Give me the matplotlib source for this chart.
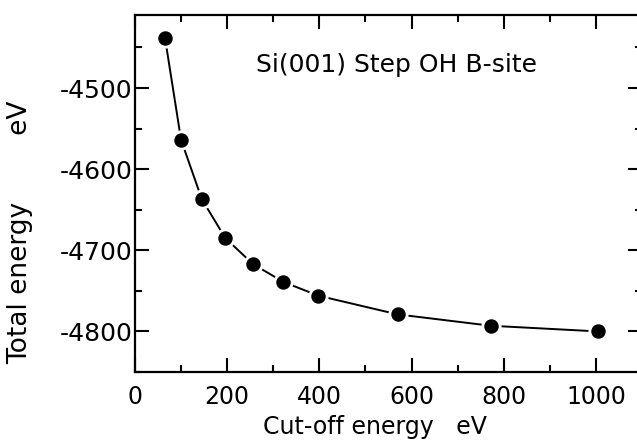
import numpy as np
import matplotlib
matplotlib.use("Agg")
import matplotlib.pyplot as plt
from matplotlib.ticker import MultipleLocator

# values
cutoff = [65, 100, 145, 196, 256, 322, 398, 570, 772, 1005]
total_energy = [-4438, -4564, -4637, -4685, -4717, -4739, -4756, -4779, -4793, -4800]
xticks = [0, 200, 400, 600, 800, 1000]
yticks = [-4500, -4600, -4700, -4800]
label_text = "Si(001) Step OH B-site"

plt.rcParams["font.family"] = ["DejaVu Sans"]
plt.rcParams["axes.unicode_minus"] = False

fig = plt.figure(figsize=(6.37, 4.42), dpi=100)
ax = fig.add_axes([135 / 637, 70 / 442, 507 / 637, 357 / 442])

# thin line, white halo to leave gaps near dots, then the dots
ax.plot(cutoff, total_energy, color="black", linewidth=1.4, zorder=2)
ax.plot(cutoff, total_energy, linestyle="none", marker="o", markersize=13.5,
        markerfacecolor="white", markeredgecolor="white", zorder=3)
ax.plot(cutoff, total_energy, linestyle="none", marker="o", markersize=9.4,
        markerfacecolor="black", markeredgecolor="black", zorder=4)

ax.set_xlim(0, 1100)
ax.set_ylim(-4850, -4410)
ax.set_xticks(xticks)
ax.set_yticks(yticks)
ax.xaxis.set_minor_locator(MultipleLocator(100))
ax.yaxis.set_minor_locator(MultipleLocator(50))

ax.tick_params(which="both", direction="in", top=True, right=True, width=1.5)
ax.tick_params(axis="x", labelsize=17, pad=9)
ax.tick_params(axis="y", labelsize=18, pad=2)
ax.tick_params(which="major", length=10)
ax.tick_params(which="minor", length=5)
for sp in ax.spines.values():
    sp.set_linewidth(1.6)

ax.set_xlabel("Cut-off energy   eV", fontsize=17)
ax.set_ylabel("Total energy        eV", fontsize=19)
ax.xaxis.set_label_coords(0.473, -0.120)
ax.yaxis.set_label_coords(-0.201, 0.392)

ax.text(0.515, 0.86, label_text, transform=ax.transAxes, fontsize=18,
        ha="center", va="center")

fig.savefig("out.png", dpi=100)
